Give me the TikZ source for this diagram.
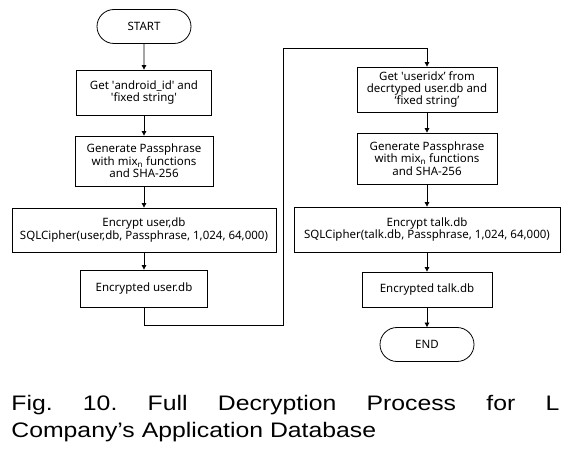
\documentclass[tikz,border=0pt]{standalone}
\usepackage{fontspec}
\setmainfont{Noto Sans}
\newfontfamily\capfont[FakeStretch=1.18,WordSpace=0.6]{Liberation Sans}
\usetikzlibrary{arrows.meta}
\usetikzlibrary{shapes.misc}

\tikzset{
  stepbox/.style={draw, rectangle, align=center, inner sep=0pt,
    font=\fontsize{11.5}{12.4}\selectfont},
  endbox/.style={draw, rounded rectangle, inner sep=0pt,
    minimum width=94pt, minimum height=34pt,
    font=\fontsize{11.5}{12.4}\selectfont},
  flow/.style={-{Triangle[width=4.5pt,length=4.5pt]}},
}

\begin{document}
\begin{tikzpicture}[x=1pt,y=-1pt,line width=0.8pt]
\useasboundingbox (0,0) rectangle (579,449);
\coordinate (s) at (144,26.5);
\coordinate (a) at (144,92.5);
\coordinate (b) at (144,161);
\coordinate (c) at (144,230);
\coordinate (d) at (144,288.5);
\coordinate (e) at (427,89.5);
\coordinate (f) at (427,158.5);
\coordinate (g) at (427,229.5);
\coordinate (h) at (427,289.5);
\coordinate (t) at (427,344.5);
\coordinate (p) at (144,325);
\coordinate (q) at (283,325);
\coordinate (r) at (283,48);
\coordinate (u) at (427,48);
\begin{scope}
% draws left column
\node[endbox] (start) at (s) {START};
\node[stepbox, minimum width=135pt, minimum height=45pt] (getid) at (a)
  {Get \textquotesingle android\_id\textquotesingle\ and\\\textquotesingle fixed string\textquotesingle};
\node[stepbox, minimum width=138pt, minimum height=50pt] (genone) at (b)
  {Generate Passphrase\\with mix\textsubscript{n} functions\\and SHA-256};
\node[stepbox, minimum width=264pt, minimum height=44pt] (encuser) at (c)
  {Encrypt user,db\\SQLCipher(user,db, Passphrase, 1,024, 64,000)};
\node[stepbox, minimum width=127pt, minimum height=37pt] (doneuser) at (d)
  {Encrypted user.db};
% draws right column
\node[stepbox, minimum width=140pt, minimum height=45pt] (getidx) at (e)
  {Get \textquotesingle useridx’ from\\decrtyped user.db and\\‘fixed string’};
\node[stepbox, minimum width=140pt, minimum height=51pt] (gentwo) at (f)
  {Generate Passphrase\\with mix\textsubscript{n} functions\\and SHA-256};
\node[stepbox, minimum width=266pt, minimum height=45pt] (enctalk) at (g)
  {Encrypt talk.db\\SQLCipher(talk.db, Passphrase, 1,024, 64,000)};
\node[stepbox, minimum width=130pt, minimum height=35pt] (donetalk) at (h)
  {Encrypted talk.db};
\node[endbox] (end) at (t) {END};
% draws edges
\draw[flow] (start) to (getid);
\draw[flow] (getid) to (genone);
\draw[flow] (genone) to (encuser);
\draw[flow] (encuser) to (doneuser);
\draw[flow] (doneuser) -- (p) -- (q) -- (r) -- (u) -- (getidx);
\draw[flow] (getidx) to (gentwo);
\draw[flow] (gentwo) to (enctalk);
\draw[flow] (enctalk) to (donetalk);
\draw[flow] (donetalk) to (end);
\end{scope}
% caption
\node[anchor=base west, text width=548pt, align=left, inner sep=0pt,
  font=\capfont\fontsize{21}{27}\selectfont] (cap) at (11,410)
  {Fig.\hfill 10.\hfill Full\hfill Decryption\hfill Process\hfill for\hfill L\\
   Company’s Application Database};
\end{tikzpicture}
\end{document}
